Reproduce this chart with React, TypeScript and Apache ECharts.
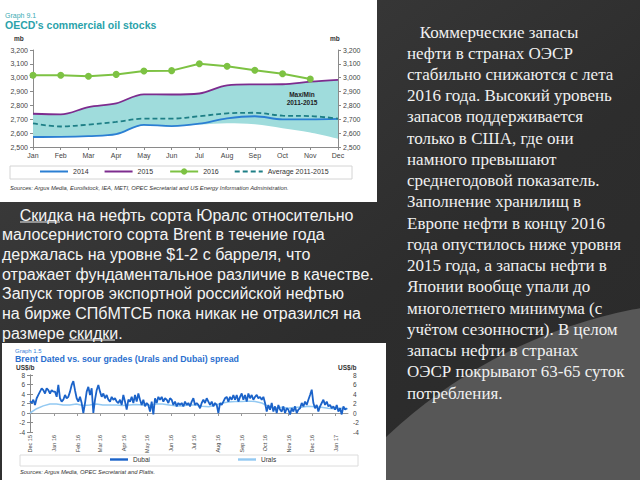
import React, { useEffect, useRef } from "react";
import * as echarts from "echarts";

// ---------- Graph 9.1: OECD commercial oil stocks (mb) ----------
const months = ["Jan", "Feb", "Mar", "Apr", "May", "Jun", "Jul", "Aug", "Sep", "Oct", "Nov", "Dec"];
const stocks2014 = [2572, 2573, 2579, 2593, 2660, 2651, 2668, 2707, 2722, 2700, 2700, 2703];
const stocks2015 = [2740, 2736, 2788, 2815, 2880, 2879, 2886, 2945, 2952, 2953, 2972, 2985];
const stocks2016 = [3018, 3018, 3011, 3024, 3049, 3051, 3101, 3083, 3054, 3029, 2991, null];
const average2011_2015 = [2670, 2648, 2662, 2681, 2705, 2705, 2722, 2743, 2747, 2726, 2723, 2705];
const bandMax = [2740, 2736, 2788, 2815, 2880, 2879, 2886, 2945, 2952, 2953, 2972, 2985];
const bandMin = [2570, 2572, 2578, 2591, 2656, 2648, 2662, 2672, 2664, 2636, 2605, 2560];

// ---------- Graph 1.5: Brent Dated vs sour grades spread (US$/b) ----------
const spreadTickDays = [0, 31, 62, 91, 122, 152, 183, 213, 244, 275, 305, 336, 366, 397];
const spreadTickLabels = ["Dec 15", "Jan 16", "Feb 16", "Mar 16", "Apr 16", "May 16", "Jun 16", "Jul 16", "Aug 16", "Sep 16", "Oct 16", "Nov 16", "Dec 16", "Jan 17"];
const spreadMaxDay = 413;
const dubaiStepDays = 2.165;
const dubai = [
  2.5,
  2.1, 2.8, 1.7, 3.1, 3.8, 4.5, 5.2, 4.8, 4.1, 5.2, 4.8, 4.1, 4.8, 4.5, 4.5, 3.4, 5.9, 3.1, 2.4, 2.8,
  3.8, 3.1, 3.4, 4.5, 5.9, 6.7, 4.8, 3.1, 2.4, 3.4,
  2.1, 0, 2.1, 4.5, 5.5, 3.8, 5.2, 0, 2.8, 4.8,
  5.9, 4.5, 3.4, 4.1, 3.1, 3.8, 2.8, 2.4, 3.4, 2.8,
  3.1, 2.4, 2.1, 2.8, 1.7, 3.8, 2.4, 0.7, 2.8, 2.4,
  3.4, 2.1, 3.8, 2.4, 4.1, 2.8, 1.7, 2.8, 1.4, 2.1,
  1.7, 0.3, 2.4, -0.3, 3.1, 2.1, 3.4, 2.8, 3.4, 2.4,
  3.1, 2.8, 2.1, 3.1, 2.8, 1.7, 2.4, 1.4, 2.1, 1.7,
  2.1, 1.4, 2.4, 1.7, 2.1, 1.4, 2.4, 3.1, 1.7, 2.1,
  1.7, 1.0, 2.1, 2.8, 2.1, 3.1, 2.4, 1.7, 2.4, 1.4,
  2.1, 1.7, 0, 2.1, 1.7, 2.4, 3.1, 3.4, 2.4, 3.4,
  2.8, 3.8, 2.8, 3.8, 2.4, 3.4, 4.1, 2.8, 3.8, 2.4,
  4.1, 3.1, 3.8, 2.8, 3.4, 3.8, 3.1, 3.4, 2.8, 3.4,
  2.1, 0.3, 1.7, 0.7, 2.1, 0.3, 1.4, 0, 1.7, 0.7,
  0.3, 1.4, 0, 1.0, 0.7, -0.3, 1.0, 0.3, 1.4, 0,
  0.7, 1.0, 2.1, 1.4, 2.4, 1.7, 2.8, 3.8, 4.9, 2.1,
  1.0, 1.7, 0.3, 1.4, 2.1, 2.8, 1.7, 2.4, 1.4, 1.7,
  1.0, 1.4, 0.7, 1.7, 0.3, 1.0, -0.3, 1.4, 0.7, 1.0,
];
const uralsStepDays = 8.6;
const urals = [
  0, 0.9, 1.5, 1.9, 1.9, 1.7, 1.7, 1.9, 1.6, 1.7,
  1.9, 1.7, 1.7, 1.7, 1.6, 1.7, 1.8, 1.7, 1.6, 1.9,
  1.9, 1.7, 1.5, 1.5, 1.7, 1.7, 1.4, 1.3, 1.7, 2.1,
  2.3, 2.4, 2.4, 2.5, 2.4, 2.1, 1.4, 1.0, 1.2, 1.0,
  1.2, 1.2, 1.4, 1.3, 1.2, 1.0, 0.9, 1.0, 0.9,
];

// ---------- slide texts ----------
const leftTextLines = [
  "    Скидка на нефть сорта Юралс относительно",
  "малосернистого сорта Brent в течение года",
  "держалась на уровне $1-2 с барреля, что",
  "отражает фундаментальное различие в качестве.",
  "Запуск торгов экспортной российской нефтью",
  "на бирже СПбМТСБ пока никак не отразился на",
  "размере скидки.",
];
const rightTextLines = [
  "   Коммерческие запасы",
  "нефти в странах ОЭСР",
  "стабильно снижаются с лета",
  "2016 года. Высокий уровень",
  "запасов поддерживается",
  "только в США, где они",
  "намного превышают",
  "среднегодовой показатель.",
  "Заполнение хранилищ в",
  "Европе нефти в концу 2016",
  "года опустилось ниже уровня",
  "2015 года, а запасы нефти в",
  "Японии вообще упали до",
  "многолетнего минимума (с",
  "учётом сезонности). В целом",
  "запасы нефти в странах",
  "ОЭСР покрывают 63-65 суток",
  "потребления.",
];

const SANS = "Liberation Sans";
const SERIF = "Liberation Serif";

const ICON_SOLID = "path://M0,0H28V2H0Z";
const ICON_DASHED = "path://M0,0H5V2H0Z M8,0H13V2H8Z M16,0H21V2H16Z M24,0H28V2H24Z";
const ICON_SOLID_SHORT = "path://M0,0H18V2.4H0Z";

export default function App() {
  const ref = useRef<HTMLDivElement>(null);

  useEffect(() => {
    if (!ref.current) return;
    const chart = echarts.init(ref.current, null, { renderer: "svg" });

    const bandDiff = bandMax.map((v, i) => v - bandMin[i]);
    const dubaiData = dubai.map((v, i) => [i * dubaiStepDays, v]);
    const uralsData = urals.map((v, i) => [i * uralsStepDays, v]);
    const fmtComma = (v: number) => v.toLocaleString("en-US");
    const dayLabel = (v: number) => {
      const k = spreadTickDays.indexOf(v);
      return k >= 0 ? spreadTickLabels[k] : "";
    };

    const txt = (text: string, x: number, y: number, font: string, fill: string, extra: any = {}) => ({
      type: "text",
      x,
      y,
      z: 5,
      style: { text, font, fill, verticalAlign: "middle", ...extra },
    });

    const graphics: any[] = [
      // lighter swoosh in lower right
      { type: "circle", shape: { cx: 730, cy: 800, r: 500 }, style: { fill: "#575757" }, z: -20 },
      // white panels
      { type: "rect", shape: { x: 0, y: 0, width: 377, height: 202 }, style: { fill: "#ffffff" }, z: -10 },
      { type: "rect", shape: { x: 2, y: 343, width: 384, height: 140 }, style: { fill: "#ffffff" }, z: -10 },
      // legend boxes
      { type: "rect", shape: { x: 10, y: 166, width: 342, height: 13 }, style: { fill: "#ffffff", stroke: "#d4d4d4", lineWidth: 1 }, z: -5 },
      { type: "rect", shape: { x: 20, y: 455, width: 338, height: 11 }, style: { fill: "#ffffff", stroke: "#dcdcdc", lineWidth: 1 }, z: -5 },
      // top chart texts
      txt("Graph 9.1", 5, 15, `7px ${SANS}`, "#3aabb3"),
      txt("OECD's commercial oil stocks", 5, 25, `bold 10.5px ${SANS}`, "#2aa2aa"),
      txt("mb", 14, 38, `bold 6.5px ${SANS}`, "#333"),
      txt("mb", 330, 38, `bold 6.5px ${SANS}`, "#333"),
      txt("Max/Min", 302, 94, `bold 6.5px ${SANS}`, "#222", { align: "center" }),
      txt("2011-2015", 302, 102, `bold 6.5px ${SANS}`, "#222", { align: "center" }),
      txt("Sources: Argus Media, Euroilstock, IEA, METI, OPEC Secretariat and US Energy Information Administration.", 10, 188, `italic 5.8px ${SANS}`, "#333"),
      // bottom chart texts
      txt("Graph 1.5", 15, 351, `6px ${SANS}`, "#3b7fd8"),
      txt("Brent Dated vs. sour grades (Urals and Dubai) spread", 15, 359, `bold 8.8px ${SANS}`, "#2b6fcf"),
      txt("US$/b", 16, 367, `bold 6.5px ${SANS}`, "#333"),
      txt("US$/b", 338, 367, `bold 6.5px ${SANS}`, "#333"),
      txt("Sources: Argus Media, OPEC Secretariat and Platts.", 20, 472, `italic 5.8px ${SANS}`, "#333"),
      // underlines of "Скидка" and "скидки"
      { type: "line", shape: { x1: 20, y1: 222, x2: 60, y2: 222 }, style: { stroke: "#f2f2f2", lineWidth: 1 }, z: 5 },
      { type: "line", shape: { x1: 69, y1: 340, x2: 115, y2: 340 }, style: { stroke: "#f2f2f2", lineWidth: 1 }, z: 5 },
    ];
    leftTextLines.forEach((line, i) => {
      graphics.push(txt(line, 2, 215 + i * 19.7, `16px ${SANS}`, "#f4f4f4", { whiteSpace: "pre" }));
    });
    rightTextLines.forEach((line, i) => {
      graphics.push(txt(line, 407, 32 + i * 21.24, `17px ${SERIF}`, "#f0f0f0"));
    });

    const axisLabelTop = { fontSize: 7, color: "#444", fontFamily: SANS };
    const axisLabelBot = { fontSize: 6.5, color: "#444", fontFamily: SANS };
    const axisLineGray = { show: true, lineStyle: { color: "#8a8a8a", width: 1 } };

    chart.setOption({
      animation: false,
      backgroundColor: {
        type: "linear", x: 0, y: 0, x2: 1, y2: 1,
        colorStops: [
          { offset: 0, color: "#3f3f3f" },
          { offset: 0.6, color: "#2d2d2d" },
          { offset: 1, color: "#2a2a2a" },
        ],
      },
      textStyle: { fontFamily: SANS },
      graphic: { elements: graphics },
      grid: [
        { left: 33, top: 50, width: 305, height: 97 },
        { left: 30, top: 375, width: 318, height: 57 },
      ],
      legend: [
        {
          data: [
            { name: "2014", icon: ICON_SOLID },
            { name: "2015", icon: ICON_SOLID },
            { name: "2016" },
            { name: "Average 2011-2015", icon: ICON_DASHED },
          ],
          left: 40, top: 168, itemWidth: 28, itemHeight: 8, itemGap: 16, padding: 0,
          textStyle: { fontSize: 7, color: "#333", fontFamily: SANS },
        },
        {
          data: [
            { name: "Dubai", icon: ICON_SOLID_SHORT },
            { name: "Urals", icon: ICON_SOLID_SHORT },
          ],
          left: 110, top: 456, itemWidth: 18, itemHeight: 8, itemGap: 88, padding: 0,
          textStyle: { fontSize: 6.5, color: "#333", fontFamily: SANS },
        },
      ],
      xAxis: [
        {
          gridIndex: 0, type: "category", data: months, boundaryGap: false,
          axisLine: axisLineGray, axisTick: { length: 3, lineStyle: { color: "#8a8a8a" } },
          axisLabel: { ...axisLabelTop, margin: 5 }, splitLine: { show: false },
        },
        {
          gridIndex: 1, type: "value", min: 0, max: spreadMaxDay,
          axisLine: { show: true, onZero: true, lineStyle: { color: "#9a9a9a" } },
          axisTick: { show: true, length: 3, customValues: spreadTickDays, lineStyle: { color: "#9a9a9a" } },
          axisLabel: { show: false }, splitLine: { show: false },
        },
        {
          gridIndex: 1, type: "value", min: 0, max: spreadMaxDay, position: "bottom",
          axisLine: { show: false, onZero: false }, axisTick: { show: false },
          axisLabel: { fontSize: 5.5, color: "#444", fontFamily: SANS, rotate: 90, margin: 3, customValues: spreadTickDays, formatter: dayLabel },
          splitLine: { show: false },
        },
      ],
      yAxis: [
        {
          gridIndex: 0, type: "value", min: 2500, max: 3200, interval: 100, position: "left",
          axisLine: axisLineGray, axisTick: { show: true, length: 3, lineStyle: { color: "#8a8a8a" } },
          axisLabel: { ...axisLabelTop, margin: 5, formatter: fmtComma }, splitLine: { show: false },
        },
        {
          gridIndex: 0, type: "value", min: 2500, max: 3200, interval: 100, position: "right",
          axisLine: axisLineGray, axisTick: { show: true, length: 3, lineStyle: { color: "#8a8a8a" } },
          axisLabel: { ...axisLabelTop, margin: 5, formatter: fmtComma }, splitLine: { show: false },
        },
        {
          gridIndex: 1, type: "value", min: -4, max: 8, interval: 2, position: "left",
          axisLine: axisLineGray, axisTick: { show: true, length: 3, lineStyle: { color: "#8a8a8a" } },
          axisLabel: { ...axisLabelBot, margin: 5 }, splitLine: { show: false },
        },
        {
          gridIndex: 1, type: "value", min: -4, max: 8, interval: 2, position: "right",
          axisLine: axisLineGray, axisTick: { show: true, length: 3, lineStyle: { color: "#8a8a8a" } },
          axisLabel: { ...axisLabelBot, margin: 5 }, splitLine: { show: false },
        },
      ],
      series: [
        {
          name: "bandMin", type: "line", xAxisIndex: 0, yAxisIndex: 0, data: bandMin, stack: "band",
          symbol: "none", smooth: 0.35, lineStyle: { opacity: 0 }, silent: true, z: 1,
        },
        {
          name: "Max/Min 2011-2015", type: "line", xAxisIndex: 0, yAxisIndex: 0, data: bandDiff, stack: "band",
          symbol: "none", smooth: 0.35, lineStyle: { opacity: 0 }, areaStyle: { color: "#9fdcdc", opacity: 1 },
          silent: true, z: 1,
        },
        {
          name: "2014", type: "line", xAxisIndex: 0, yAxisIndex: 0, data: stocks2014, symbol: "none", smooth: 0.35,
          color: "#2b7fd3", lineStyle: { color: "#2b7fd3", width: 1.8 },
        },
        {
          name: "2015", type: "line", xAxisIndex: 0, yAxisIndex: 0, data: stocks2015, symbol: "none", smooth: 0.35,
          color: "#7d2c8e", lineStyle: { color: "#7d2c8e", width: 1.8 },
        },
        {
          name: "2016", type: "line", xAxisIndex: 0, yAxisIndex: 0, data: stocks2016, symbol: "circle", symbolSize: 7,
          color: "#7dc243", lineStyle: { color: "#7dc243", width: 2 }, itemStyle: { color: "#7dc243" },
        },
        {
          name: "Average 2011-2015", type: "line", xAxisIndex: 0, yAxisIndex: 0, data: average2011_2015, symbol: "none",
          smooth: 0.35, color: "#1e7f86", lineStyle: { color: "#1e7f86", width: 1.8, type: [5, 3] },
        },
        {
          name: "Urals", type: "line", xAxisIndex: 1, yAxisIndex: 2, data: uralsData, symbol: "none",
          color: "#93c9f2", lineStyle: { color: "#93c9f2", width: 1.5 },
        },
        {
          name: "Dubai", type: "line", xAxisIndex: 1, yAxisIndex: 2, data: dubaiData, symbol: "none",
          color: "#1b63c9", lineStyle: { color: "#1b63c9", width: 1.8 },
        },
      ],
    });

    return () => chart.dispose();
  }, []);

  return <div ref={ref} style={{ position: "fixed", left: 0, top: 0, width: 640, height: 480 }} />;
}
